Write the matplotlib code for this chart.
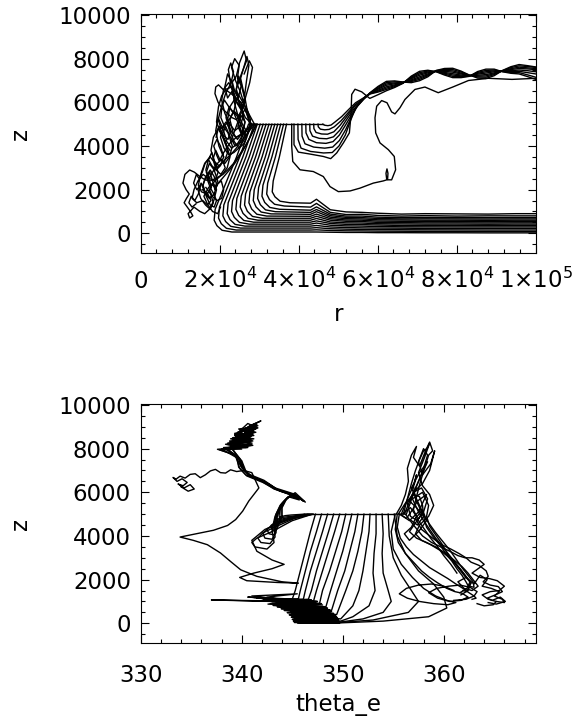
import matplotlib
matplotlib.use('Agg')
import matplotlib.pyplot as plt
from matplotlib.ticker import FixedLocator, MultipleLocator

plt.rcParams['font.family'] = 'DejaVu Sans'
plt.rcParams['font.size'] = 16.5
plt.rcParams['mathtext.fontset'] = 'dejavusans'
plt.rcParams['lines.linewidth'] = 1.0

# ---------------- top panel: r - z ----------------
z_release = 5000

# trajectories that sink to the surface layer (head part, then common r grid)
fan_r_head = [
    [27300, 24270, 18850, 18600, 19300, 20600, 23100],
    [28040, 25060, 19950, 19700, 20400, 21700, 24200],
    [28780, 25860, 21050, 20800, 21500, 22800, 25300],
    [29520, 26660, 22150, 21900, 22600, 23900, 26400],
    [30260, 27470, 23250, 23000, 23700, 25000, 27500],
    [31000, 28280, 24350, 24100, 24800, 26100, 28600],
    [31740, 29090, 25450, 25200, 25900, 27200, 29700],
    [32480, 29900, 26550, 26300, 27000, 28300, 30800],
    [33220, 30730, 27650, 27400, 28100, 29400, 31900],
    [33960, 31550, 28750, 28500, 29200, 30500, 33000],
    [34700, 32380, 29850, 29600, 30300, 31600, 34100],
    [35440, 33220, 30950, 30700, 31400, 32700, 35200],
    [36180, 34110, 32150, 31900, 32600, 33900, 36400],
    [36920, 35110, 33550, 33300, 34000, 35300, 37800],
]
fan_z_head = [
    [5000, 3500, 1100, 600, 350, 140, 60],
    [5000, 3500, 1200, 700, 440, 230, 150],
    [5000, 3500, 1300, 800, 540, 320, 240],
    [5000, 3500, 1400, 900, 630, 410, 330],
    [5000, 3500, 1500, 1000, 730, 500, 420],
    [5000, 3500, 1600, 1100, 820, 590, 510],
    [5000, 3500, 1700, 1200, 915, 685, 600],
    [5000, 3500, 1800, 1300, 1010, 775, 690],
    [5000, 3500, 1900, 1400, 1110, 875, 790],
    [5000, 3500, 2000, 1500, 1210, 975, 890],
    [5000, 3500, 2100, 1600, 1310, 1075, 990],
    [5000, 3500, 2200, 1700, 1415, 1185, 1100],
    [5000, 3500, 2300, 1800, 1545, 1330, 1250],
    [5000, 3500, 2400, 1900, 1670, 1470, 1400],
]
fan_r_tail = [43000, 44500, 48000, 52000, 56000, 60000, 66000, 72000, 80000, 88000, 95000, 100000]
fan_z_tail = [
    [60, 60, 50, 40, 40, 30, 30, 25, 25, 20, 20, 20],
    [150, 160, 130, 115, 110, 100, 95, 90, 85, 80, 80, 80],
    [240, 260, 210, 190, 180, 170, 165, 160, 155, 150, 150, 150],
    [330, 360, 290, 265, 250, 240, 235, 225, 220, 220, 220, 220],
    [420, 470, 370, 340, 330, 310, 300, 295, 290, 290, 290, 290],
    [510, 570, 450, 410, 400, 380, 360, 355, 350, 350, 350, 350],
    [600, 680, 520, 480, 470, 440, 430, 420, 420, 415, 420, 420],
    [690, 780, 600, 550, 540, 500, 490, 480, 480, 475, 480, 480],
    [780, 880, 670, 610, 600, 560, 550, 545, 540, 535, 540, 540],
    [870, 990, 740, 670, 660, 620, 610, 600, 600, 595, 600, 600],
    [960, 1090, 810, 730, 720, 680, 660, 665, 660, 655, 660, 660],
    [1060, 1210, 880, 790, 790, 740, 720, 730, 720, 715, 720, 720],
    [1200, 1370, 960, 860, 870, 820, 790, 810, 790, 800, 800, 800],
    [1380, 1560, 1080, 980, 960, 920, 880, 900, 890, 880, 900, 900],
]

# trajectories that curl and rise into the outflow band
curl_r_head = [
    [38810, 38810, 39910, 42870, 46240, 48100, 49620, 51310, 52830, 53250, 53420, 54260, 55950, 57500],
    [39800, 39850, 40600, 43000, 46300, 48500, 50200, 51800, 53000, 54300, 56500],
    [40800, 40850, 41600, 43800, 46600, 48600, 50300, 51900, 53300, 54900, 56700],
    [41800, 41850, 42600, 44500, 46900, 48700, 50300, 52000, 53600, 55300, 56900],
    [42800, 42850, 43500, 45200, 47100, 48800, 50400, 52100, 53800, 55600, 57000],
    [43800, 43850, 44400, 45800, 47300, 48900, 50500, 52300, 54000, 55800, 57200],
    [44900, 44950, 45500, 46600, 47700, 49000, 50700, 52500, 54200, 56000, 57400],
    [46100, 46600, 47400, 48200, 49200, 50900, 52700, 54400, 56200, 57500],
]
curl_z_head = [
    [5000, 4060, 3720, 3630, 3520, 3420, 3680, 4140, 4600, 5440, 6360, 6600, 6480, 6250],
    [5000, 4300, 3900, 3750, 3680, 3700, 4000, 4500, 5100, 5700, 6150],
    [5000, 4450, 4100, 3950, 3900, 3950, 4250, 4750, 5300, 5850, 6200],
    [5000, 4600, 4300, 4150, 4120, 4200, 4500, 5000, 5500, 5950, 6250],
    [5000, 4700, 4450, 4350, 4330, 4420, 4720, 5200, 5650, 6000, 6280],
    [5000, 4800, 4620, 4550, 4540, 4650, 4950, 5380, 5780, 6060, 6300],
    [5000, 4880, 4770, 4740, 4760, 4880, 5150, 5520, 5880, 6120, 6320],
    [5000, 4950, 4930, 4960, 5100, 5350, 5680, 5980, 6180, 6330],
]
band_r = [58000, 60100, 62200, 64300, 66400, 68500, 70600, 72700, 74800, 76900, 79000,
          81100, 83200, 85300, 87400, 89500, 91600, 93700, 95800, 97900, 100000]
curl_z_band = [
    [6180, 6350, 6530, 6680, 6870, 7200, 7420, 7470, 7400, 7250, 7130, 7130, 7190, 7410, 7520, 7520, 7400, 7330, 7300, 7180, 7050],
    [6380, 6470, 6590, 6720, 6880, 7160, 7360, 7430, 7410, 7290, 7190, 7170, 7200, 7370, 7460, 7480, 7410, 7370, 7360, 7260, 7150],
    [6390, 6510, 6650, 6760, 6890, 7120, 7300, 7390, 7420, 7330, 7250, 7210, 7210, 7330, 7400, 7440, 7420, 7410, 7420, 7360, 7300],
    [6400, 6550, 6710, 6800, 6900, 7080, 7240, 7350, 7430, 7370, 7310, 7250, 7220, 7290, 7340, 7400, 7430, 7450, 7480, 7450, 7400],
    [6400, 6600, 6780, 6850, 6900, 7030, 7170, 7300, 7430, 7420, 7380, 7300, 7220, 7240, 7270, 7350, 7430, 7500, 7550, 7530, 7500],
    [6410, 6640, 6840, 6890, 6910, 6990, 7110, 7260, 7440, 7460, 7440, 7340, 7230, 7200, 7210, 7310, 7440, 7540, 7610, 7580, 7550],
    [6420, 6690, 6900, 6940, 6920, 6950, 7050, 7220, 7450, 7510, 7500, 7390, 7240, 7160, 7150, 7270, 7450, 7590, 7670, 7640, 7600],
    [6430, 6730, 6960, 6980, 6930, 6900, 6990, 7170, 7460, 7550, 7560, 7430, 7250, 7110, 7090, 7220, 7460, 7630, 7730, 7680, 7620],
]

# the one trajectory that dips to 2 km and loops back up
loop_r = [38230, 38230, 38500, 40330, 43700, 46240, 47930, 50040, 53000, 55530,
          58900, 61430, 62300, 62100, 62350, 62600, 62500, 63530, 64540, 64200,
          62700, 60590, 59490, 59320, 59740, 61000, 62360, 63530, 64370, 65640,
          66900, 69430, 71960, 75330, 79000, 83000, 88000, 94000, 100000]
loop_z = [5000, 4000, 3290, 2910, 2830, 2600, 2140, 1910, 1940, 2070,
          2300, 2400, 2450, 2750, 2950, 2750, 2450, 2450, 2910, 3520,
          3830, 4140, 4600, 5290, 5820, 6080, 5980, 5560, 5470, 5750,
          6130, 6590, 6700, 6440, 6700, 7000, 7100, 7050, 7100]

# tangled trajectories near the inner core
cloud_r = [
    [28200, 26500, 25000, 24200, 25500, 26800, 26200, 25000, 24500, 25600, 26300, 25200, 23800, 22800, 22200, 22800,
     23500, 22900, 21500, 20600, 20300, 21200, 22400, 23600, 24800, 26000, 27200, 27800, 26900, 25400, 24000, 23000],
    [28600, 27000, 25500, 24000, 22800, 22000, 22600, 24000, 25400, 26000, 25200, 23800, 22600, 21300, 20500,
     21000, 22300, 23500, 24600, 25600, 26400, 25800, 24500, 23000, 21800, 20800, 19600, 19000, 19800, 21000],
    [29000, 27500, 25800, 24200, 22800, 21500, 20400, 19500, 18700, 18000, 17200, 16500, 17500, 18800, 19600, 18900,
     17600, 16200, 15200, 14600, 15400, 16800, 17900, 17200, 15800, 14500, 13500, 13000, 14200, 15700, 16900, 17800,
     17000, 15600],
    [29400, 28000, 26500, 25000, 23500, 22000, 20800, 19800, 18800, 17600, 16300, 15000, 13600, 12400, 11200, 10700,
     11500, 12300, 11600, 11000, 11800, 12600, 13200, 12400, 12000, 13500, 15000, 16200, 17400, 18500, 19200, 18400,
     17200, 16000, 17000, 18200, 19500, 20200],
    [28800, 27600, 26200, 24600, 23000, 21600, 20500, 19700, 19200, 20200, 21400, 22000, 21200, 19800, 18600, 17800,
     18400, 19600, 20800, 21800, 22600, 21900, 20700, 19400, 18300, 17400, 18100, 19300, 20500, 21000, 20400, 19100],
    [27900, 26800, 25300, 23600, 22100, 20800, 19700, 19000, 18800, 19600, 20700, 21900, 23100, 24300, 25400, 26500,
     27600, 28300, 27500, 26200],
    [28000, 26800, 25600, 24600, 25400, 26400, 25700, 24500, 23400, 22600, 23500, 24700, 25800, 26800, 26100, 24900,
     23700, 22500, 21600, 22400, 23600, 24800, 25900, 25200, 23900, 22700, 21500, 20600, 21400, 22600],
    [28400, 27200, 25900, 24800, 23600, 22300, 21100, 20200, 20900, 22100, 23200, 22500, 21300, 20000, 19000, 18300,
     19100, 20300, 21400, 20600, 19400, 18200, 17300, 16600, 17400, 18600, 19500, 18800, 17600, 16500, 15700, 16400,
     17500],
    [27600, 26400, 25200, 24000, 23000, 23800, 24900, 24200, 23100, 22000, 21300, 22000, 23100, 24100, 23500, 22300,
     21200, 20300, 19600, 20400, 21600, 22800, 22100, 20900, 19800, 19100],
    [29200, 27400, 25600, 23800, 22000, 20600, 19600, 18800, 18200, 17500, 16800, 17600, 18500, 19200, 18600, 17600,
     16600, 15800, 16500, 17600, 18600, 19300, 18600, 17400, 16200, 15300, 14500, 15200, 16400, 17600, 18400, 17700,
     16500],
    [28700, 27300, 25800, 24300, 22900, 21700, 20700, 19900, 19200, 18500, 19300, 20200, 21000, 20200, 19100, 18000,
     17100, 16300, 15600, 14800, 14100, 13400, 14200, 15200, 14600, 13700, 12800, 12200, 13000, 14000],
    [27700, 27000, 26300, 26800, 27400, 26900, 26100, 25300, 25900, 26500, 25800, 24900, 24200, 24800, 25500, 24700,
     23800, 23100, 23700, 24600],
]
cloud_z = [
    [5000, 5300, 5900, 6600, 7300, 7900, 8350, 7800, 7100, 6700, 6200, 5800, 6100, 6800, 7500, 7800,
     7400, 6900, 6400, 5900, 5300, 4900, 5200, 5600, 5400, 4900, 4600, 5200, 5700, 5500, 4800, 4300],
    [5000, 4800, 4500, 4400, 4700, 5200, 5800, 6200, 6000, 5400, 4900, 4700, 5000, 5500, 6100,
     6600, 6900, 6500, 5900, 5600, 5100, 4500, 4100, 3900, 4200, 4800, 5300, 4700, 4000, 3500],
    [5000, 4700, 4300, 3900, 3600, 3400, 3200, 3000, 3300, 3700, 3400, 2900, 2500, 2400, 2800, 3200,
     3500, 3200, 2700, 2200, 1900, 1800, 2100, 2500, 2700, 2400, 2000, 1600, 1400, 1500, 1300, 1500,
     1800, 2000],
    [5000, 4500, 4000, 3600, 3200, 2900, 2700, 2600, 2500, 2400, 2450, 2600, 2800, 2900, 2700, 2300,
     2000, 1800, 1600, 1400, 1200, 1000, 800, 700, 900, 1200, 1000, 900, 1100, 1500, 2000, 2300,
     2100, 1700, 1300, 1000, 900, 1200],
    [5000, 5400, 5900, 6400, 6700, 6600, 6300, 5800, 5100, 4600, 4200, 3700, 3300, 3100, 3300, 3800,
     4400, 4800, 4500, 4000, 3500, 3000, 2700, 2500, 2300, 2000, 1700, 1500, 1600, 2000, 2400, 2200],
    [5000, 5500, 6000, 6300, 6500, 6600, 6800, 6700, 6400, 6000, 5700, 5500, 5300, 5200, 5600, 6200,
     6900, 7600, 7900, 7300],
    [5000, 4700, 4500, 4900, 5400, 5100, 4600, 4300, 4600, 5200, 5600, 5300, 4800, 4400, 4100, 3900,
     4200, 4700, 5300, 5800, 5500, 5000, 4500, 4200, 4000, 4400, 4900, 4500, 4100, 3800],
    [5000, 4600, 4200, 3900, 3700, 3600, 3900, 4400, 4900, 4600, 4000, 3500, 3200, 3400, 3800, 3400,
     2900, 2700, 3000, 3400, 3200, 2800, 2500, 2800, 3200, 2900, 2400, 2100, 2300, 2600, 2200, 1800,
     1600],
    [5000, 5800, 6500, 7000, 7600, 8000, 7700, 7200, 6900, 7300, 6700, 6200, 6500, 6000, 5500, 5800,
     6100, 5700, 5200, 4800, 5100, 4700, 4300, 4500, 4900, 4400],
    [5000, 4300, 3700, 3200, 2800, 2500, 2300, 2000, 2400, 2800, 2500, 2100, 1800, 1500, 1200, 1300,
     1700, 2200, 2600, 2900, 2600, 2200, 1800, 1600, 1900, 2300, 2000, 1600, 1300, 1100, 1400, 1800,
     2100],
    [5000, 4800, 4600, 4400, 4200, 3900, 3600, 3300, 3600, 4000, 4300, 4000, 3500, 3100, 2900, 3100,
     3400, 3200, 2800, 2500, 2700, 2300, 2000, 2200, 1800, 1500, 1700, 1400, 1200, 1350],
    [5000, 5600, 6300, 7000, 7700, 8100, 7600, 7100, 6600, 6100, 5700, 6000, 6600, 7200, 6800, 6200,
     6500, 7000, 6000, 5400],
]

# ---------------- bottom panel: theta_e - z ----------------
fan_th = [
    [355.1, 355.4, 356.2, 357.5, 359.0, 360.0, 360.3, 358.5, 354.0, 349.8, 345.4, 349.7, 345.2, 349.7, 345.5, 349.6],
    [354.5, 354.6, 355.0, 355.8, 356.8, 357.5, 356.5, 353.0, 349.8, 345.3, 349.6, 345.1, 349.6, 345.4, 349.6],
    [353.9, 354.0, 353.9, 354.0, 354.5, 354.8, 354.0, 352.0, 349.8, 345.2, 349.5, 345.0, 349.5, 345.3, 349.6, 345.4],
    [353.3, 353.3, 353.1, 353.0, 353.2, 352.6, 351.0, 349.8, 345.1, 349.4, 344.9, 349.5, 345.2, 349.4, 345.3],
    [352.7, 352.6, 352.3, 352.0, 351.6, 351.0, 349.8, 345.0, 349.3, 344.7, 349.2, 345.1, 349.4, 345.2],
    [352.1, 351.9, 351.5, 351.0, 350.3, 349.4, 344.8, 349.1, 344.5, 349.0, 345.0, 349.2, 345.1, 349.0],
    [351.5, 351.2, 350.7, 350.2, 349.5, 348.9, 344.6, 348.9, 344.2, 348.7, 344.9, 349.0, 345.0, 348.8],
    [350.9, 350.5, 350.0, 349.4, 348.8, 348.3, 344.3, 348.7, 343.9, 348.5, 344.6, 348.8, 344.9, 348.6],
    [350.3, 349.9, 349.3, 348.7, 348.0, 347.7, 344.0, 348.5, 343.5, 348.2, 344.5, 348.6, 344.7, 348.4],
    [349.7, 349.2, 348.6, 348.0, 347.4, 347.1, 343.8, 348.3, 343.1, 348.0, 344.2, 348.4, 344.4, 348.1],
    [349.1, 348.6, 348.0, 347.4, 346.9, 346.6, 343.4, 348.0, 342.6, 347.6, 343.8, 348.2, 344.0, 347.9],
    [348.5, 348.0, 347.4, 346.8, 346.3, 346.1, 343.0, 347.9, 342.1, 347.0, 341.0, 345.5, 342.5, 347.6],
    [347.9, 347.4, 346.8, 346.3, 345.8, 345.6, 342.0, 347.4, 341.2, 346.9, 342.8, 347.8, 343.5, 347.2],
    [347.3, 346.8, 346.3, 345.8, 345.3, 345.0, 341.5, 346.8, 340.6, 347.5, 342.2, 347.3, 337.0, 344.5, 347.6],
]
fan_zth = [
    [5000, 4000, 3200, 2400, 1800, 1200, 700, 300, 100, 20, 50, 30, 40, 20, 30, 20],
    [5000, 4000, 3000, 2200, 1500, 1000, 500, 150, 40, 120, 100, 110, 80, 90, 80],
    [5000, 4100, 3200, 2300, 1500, 1000, 500, 200, 60, 200, 170, 180, 150, 160, 150, 150],
    [5000, 4100, 3200, 2300, 1500, 800, 300, 100, 300, 260, 280, 230, 240, 220, 220],
    [5000, 4200, 3300, 2400, 1500, 800, 200, 420, 360, 390, 320, 330, 290, 290],
    [5000, 4200, 3300, 2400, 1500, 400, 520, 450, 490, 400, 420, 370, 380, 350],
    [5000, 4200, 3300, 2400, 1500, 600, 620, 540, 590, 480, 500, 440, 450, 420],
    [5000, 4200, 3300, 2400, 1500, 700, 700, 620, 670, 560, 590, 510, 520, 480],
    [5000, 4200, 3300, 2400, 1500, 900, 800, 690, 760, 640, 660, 580, 600, 540],
    [5000, 4200, 3300, 2400, 1500, 1000, 880, 760, 820, 700, 720, 640, 650, 600],
    [5000, 4200, 3300, 2400, 1500, 1100, 950, 840, 880, 760, 800, 700, 720, 660],
    [5000, 4200, 3300, 2400, 1500, 1100, 980, 900, 1060, 950, 1250, 1350, 1200, 780],
    [5000, 4200, 3300, 2400, 1500, 1100, 1050, 980, 1180, 1080, 900, 870, 1000, 820],
    [5000, 4200, 3300, 2400, 1500, 1100, 1150, 1050, 1200, 1000, 1120, 950, 1070, 1010, 900],
]

curl_th = [
    [347.0, 345.0, 343.0, 341.5, 341.0, 341.3, 342.5, 343.2, 343.0, 343.3, 343.8, 344.6, 345.7, 345.0, 343.3, 342.1,
     340.5, 339.8, 339.4, 338.6, 340.9, 339.0, 341.2, 339.4, 341.4, 339.9, 341.6, 340.4,
     339.3, 340.8, 339.6, 341.0],
    [346.9, 345.2, 343.5, 342.1, 341.6, 341.9, 342.8, 343.3, 343.2, 343.4, 343.9, 344.7, 345.6, 344.9, 343.2, 342.0,
     340.4, 339.7, 339.5, 337.6, 339.9, 338.4, 340.6, 338.9, 341.0, 339.6, 341.9, 340.8,
     339.8, 341.1, 339.2, 340.6],
    [346.8, 345.3, 343.8, 342.6, 342.1, 342.3, 343.0, 343.4, 343.3, 343.5, 344.0, 344.8, 345.8, 345.0, 343.3, 342.2,
     340.6, 339.9, 339.3, 338.2, 340.3, 338.8, 340.8, 339.3, 341.1, 339.8, 341.3,
     340.1, 341.4, 339.5, 340.7],
    [346.7, 345.4, 344.1, 343.0, 342.5, 342.7, 343.2, 343.5, 343.4, 343.6, 344.1, 344.9, 345.9, 345.1, 343.4, 342.3,
     340.7, 340.0, 339.6, 337.8, 340.0, 338.6, 340.9, 339.1, 341.2, 340.0, 341.5,
     339.4, 340.9, 338.9, 340.4],
    [346.6, 345.5, 344.4, 343.4, 342.9, 343.0, 343.4, 343.6, 343.5, 343.7, 344.2, 345.0, 346.0, 345.2, 343.5, 342.4,
     340.8, 340.1, 339.7, 338.9, 341.0, 339.2, 340.7, 338.8, 340.9, 339.7, 341.4,
     340.3, 341.2, 339.7, 340.9],
    [346.5, 345.6, 344.6, 343.7, 343.2, 343.3, 343.6, 343.8, 343.7, 343.8, 344.3, 345.1, 346.1, 345.3, 343.6, 342.5,
     340.9, 340.2, 339.8, 338.4, 340.6, 338.7, 341.1, 339.5, 341.3, 340.1,
     339.1, 340.5, 339.4, 340.8],
    [346.35, 345.7, 344.9, 344.0, 343.5, 343.5, 343.8, 343.9, 343.9, 343.9, 344.4, 345.2, 346.2, 345.4, 343.7, 342.6,
     341.0, 340.3, 339.9, 339.0, 341.1, 338.9, 340.5, 339.3, 341.6, 340.6,
     339.9, 341.3, 340.2, 341.0],
    [346.2, 345.6, 344.9, 344.3, 343.9, 343.8, 344.0, 344.0, 344.0, 344.0, 344.5, 345.3, 346.3, 345.5, 343.8, 342.7,
     341.1, 340.4, 340.0, 338.0, 340.2, 338.6, 340.9, 339.3, 341.0,
     339.6, 340.7, 338.7, 340.3],
]
curl_zth = [
    [5000, 4700, 4200, 3900, 3700, 3500, 3400, 3700, 4300, 4900, 5400, 5800, 5650, 5850, 6150, 6450,
     6750, 7100, 7650, 8000, 8150, 8300, 8450, 8550, 8750, 8800, 9050, 8950,
     8600, 8500, 8350, 8250],
    [5000, 4800, 4450, 4150, 3900, 3700, 3650, 3950, 4500, 5000, 5450, 5820, 5700, 5900, 6150, 6500,
     6800, 7150, 7700, 7970, 8050, 8200, 8300, 8450, 8600, 8750, 9270, 9050,
     8700, 8650, 8150, 8100],
    [5000, 4850, 4600, 4350, 4100, 3900, 3850, 4150, 4600, 5050, 5500, 5850, 5750, 5950, 6200, 6550,
     6850, 7200, 7750, 8050, 8100, 8350, 8400, 8650, 8700, 8850, 8950,
     8800, 9000, 8450, 8300],
    [5000, 4880, 4700, 4500, 4300, 4100, 4050, 4350, 4750, 5100, 5550, 5880, 5700, 5900, 6150, 6480,
     6780, 7120, 7650, 7950, 7980, 8250, 8300, 8500, 8600, 8850, 9100,
     8700, 8550, 8100, 8050],
    [5000, 4900, 4780, 4650, 4480, 4300, 4250, 4500, 4850, 5150, 5600, 5900, 5650, 5870, 6120, 6450,
     6750, 7100, 7600, 8100, 8200, 8400, 8500, 8300, 8650, 8900, 9000,
     8750, 8800, 8550, 8350],
    [5000, 4920, 4840, 4750, 4620, 4480, 4450, 4650, 4950, 5200, 5650, 5920, 5600, 5850, 6100, 6420,
     6720, 7050, 7550, 7980, 8050, 8250, 8350, 8600, 8750, 8800,
     8400, 8350, 8150, 8200],
    [5000, 4950, 4900, 4850, 4760, 4660, 4650, 4800, 5050, 5250, 5700, 5950, 5580, 5830, 6080, 6400,
     6700, 7000, 7500, 8000, 8150, 8300, 8550, 8450, 8950, 9150,
     8850, 8900, 8600, 8700],
    [5000, 4980, 4960, 4930, 4880, 4850, 4860, 4950, 5100, 5300, 5750, 5980, 5550, 5800, 6050, 6380,
     6680, 6980, 7450, 7990, 8100, 8200, 8450, 8700, 8600,
     8400, 8450, 8050, 8150],
]

loop_th = [347.1, 344.6, 342.3, 341.0, 341.5, 343.0, 344.2, 343.0, 341.2, 339.8,
           340.5, 343.5, 345.6, 344.0, 341.5, 339.9, 338.9, 337.9, 336.6, 335.2,
           333.9, 335.6, 337.2, 338.6, 339.4, 340.1, 340.7, 341.2, 341.7, 341.0,
           340.2, 339.5, 338.9, 338.4, 337.9, 337.4, 336.9, 336.4, 335.9, 335.4,
           334.9, 334.4, 333.9, 333.5, 333.2, 333.6, 334.1, 334.6, 334.2, 333.7,
           334.3, 334.9, 335.3, 334.7, 334.0]
loop_zth = [5000, 4750, 4300, 3800, 3300, 2900, 2700, 2500, 2300, 2100,
            1950, 1870, 1840, 1900, 2150, 2450, 2830, 3220, 3600, 3800,
            3950, 4110, 4260, 4480, 4750, 5140, 5600, 5900, 6200, 6900,
            7000, 6950, 7030, 6880, 6900, 7050, 6980, 6800, 6670, 6850,
            6820, 6650, 6740, 6600, 6680, 6500, 6620, 6450, 6300, 6380,
            6200, 6350, 6150, 6050, 6250]

cloud_th = [
    [355.3, 355.8, 356.2, 356.5, 356.4, 356.8, 357.3, 357.0, 357.6, 358.2, 358.6, 358.1, 357.5, 357.9, 358.6,
     359.0, 358.5, 357.6, 357.2, 357.8, 358.7, 359.6, 360.3, 361.0, 361.6, 362.1, 362.6, 362.3, 361.6],
    [355.6, 356.3, 356.9, 357.4, 357.9, 357.4, 356.7, 356.4, 357.0, 357.8, 358.4, 358.0, 357.2, 356.6, 357.3,
     358.3, 359.2, 360.2, 361.0, 361.8, 362.4, 362.9, 363.4, 362.8, 362.0, 361.4, 362.2, 363.0,
     363.6, 364.3, 363.8, 364.7, 365.5, 365.0, 365.8, 366.0, 365.2],
    [355.9, 356.7, 357.3, 356.8, 356.1, 356.6, 357.5, 358.3, 357.9, 357.2, 357.8, 358.9, 359.8, 360.7, 361.5,
     362.2, 362.7, 363.5, 364.2, 364.4, 363.9, 364.6, 365.4, 365.8, 365.1, 364.3, 364.8, 365.6, 366.1, 365.2, 364.4],
    [355.4, 355.2, 355.5, 356.2, 357.0, 357.8, 358.6, 359.4, 360.3, 361.1, 361.8, 362.4, 361.7, 360.6, 359.4,
     358.5, 359.3, 360.5, 361.6, 362.6, 363.3, 363.0, 362.2, 361.0],
    [356.0, 356.4, 356.8, 357.2, 357.6, 358.0, 358.3, 358.6, 358.9, 358.5, 358.1, 357.7, 357.3, 357.0, 357.5,
     358.1, 358.7, 359.4, 360.0, 360.7, 361.3],
    [356.2, 357.0, 357.9, 358.8, 359.7, 360.6, 361.4, 362.1, 362.8, 363.5, 364.0, 363.4, 362.8, 363.6, 364.5,
     365.3, 366.0, 365.5, 364.6, 363.8, 364.4, 365.2, 364.9, 364.0, 363.3],
    [355.5, 356.2, 357.0, 357.6, 357.9, 358.0, 358.3, 358.9, 359.6, 360.2, 360.8, 361.3, 361.8, 362.2, 362.5,
     362.3, 361.9],
    [355.8, 356.5, 357.1, 357.3, 357.0, 357.2, 357.8, 358.5, 359.2, 359.9, 360.6, 361.2, 361.8, 362.4, 362.9,
     363.0, 362.5],
    [356.1, 356.9, 357.8, 358.4, 357.6, 356.8, 357.4, 358.3, 357.5, 358.0, 358.6, 359.2, 359.9, 360.5, 361.1,
     361.7, 362.2, 362.7, 362.4],
    [355.6, 355.4, 355.7, 356.3, 357.0, 357.8, 358.6, 359.5, 360.4, 361.2, 361.9, 362.5, 363.0, 363.2, 362.8],
    [355.7, 356.6, 357.5, 356.9, 357.9, 358.5, 358.3, 358.6, 359.2, 359.8, 360.3, 360.9, 361.5, 362.1, 362.7,
     362.4, 361.7],
    [356.3, 356.9, 357.5, 358.0, 358.4, 358.0, 357.5, 357.9, 358.7, 359.1, 358.6, 357.9, 357.2, 356.6, 357.3,
     358.0, 357.4, 356.8],
    [355.2, 354.8, 355.0, 355.8, 356.9, 358.0, 359.2, 360.3, 361.2, 360.4, 359.0, 357.6, 356.4, 355.6, 356.3,
     357.5, 358.8, 360.0, 361.0],
]
cloud_zth = [
    [5000, 5400, 5900, 6500, 7100, 7700, 8100, 7600, 7200, 7900, 8250, 7600, 6900, 6300, 5900,
     5400, 4900, 4500, 4100, 3800, 3600, 3350, 3100, 2800, 2500, 2200, 1900, 1600, 1400],
    [5000, 4800, 5200, 5600, 5100, 4700, 4900, 5500, 6000, 6200, 5700, 5100, 4600, 4200, 3900,
     3700, 3500, 3200, 2900, 2600, 2300, 2000, 1700, 1500, 1600, 1900, 2100, 1800,
     2200, 2000, 1700, 1600, 1450, 1250, 1100, 950, 1000],
    [5000, 5300, 4900, 4400, 4100, 3800, 4200, 4700, 5200, 4800, 4300, 3900, 3600, 3400, 3200,
     3000, 2800, 2650, 2400, 2150, 1900, 1750, 1680, 1450, 1300, 1150, 1050, 1200, 1000, 880, 950],
    [5000, 4300, 3700, 3200, 2800, 2400, 2100, 1850, 1600, 1450, 1380, 1200, 1050, 1000, 1150,
     1400, 1600, 1700, 1750, 1650, 1450, 1250, 1100, 1050],
    [5000, 5700, 6400, 7000, 7500, 7900, 8000, 8300, 7900, 7700, 7100, 6500, 5800, 5200, 4700,
     4300, 3900, 3500, 3100, 2700, 2300],
    [5000, 4500, 4000, 3700, 3500, 3300, 3100, 3000, 3000, 2900, 2700, 2500, 2300, 2100, 2050,
     1950, 1700, 1500, 1450, 1300, 1100, 1000, 850, 800, 900],
    [5000, 5500, 5900, 5800, 5400, 4900, 4400, 4000, 3600, 3200, 2850, 2500, 2200, 1900, 1650,
     1450, 1500],
    [5000, 5800, 6400, 6800, 6300, 5700, 5100, 4600, 4150, 3750, 3350, 2950, 2550, 2200, 1900,
     1650, 1700],
    [5000, 5900, 6800, 7400, 6900, 6200, 5600, 5900, 5100, 4700, 4300, 3900, 3500, 3150, 2800,
     2450, 2150, 1850, 1650],
    [5000, 4400, 3900, 3500, 3150, 2850, 2550, 2300, 2050, 1800, 1600, 1400, 1250, 1150, 1100],
    [5000, 4700, 5100, 5700, 6000, 5400, 4900, 4450, 4050, 3650, 3250, 2850, 2500, 2150, 1850,
     1500, 1300],
    [5000, 5800, 6500, 7100, 7700, 8000, 7400, 6800, 7300, 7900, 7000, 6400, 6100, 5600, 5300,
     4900, 4500, 4700],
    [5000, 4200, 3400, 2700, 2100, 1600, 1250, 1050, 950, 850, 900, 1000, 1150, 1350, 1600,
     1750, 1800, 1700, 1500],
]

# axis ticks / labels
z_ticks = [0, 2000, 4000, 6000, 8000, 10000]
z_labels = ['0', '2000', '4000', '6000', '8000', '10000']
r_ticks = [0, 20000, 40000, 60000, 80000, 100000]
r_labels = ['0', r'$2{\times}10^{4}$', r'$4{\times}10^{4}$', r'$6{\times}10^{4}$',
            r'$8{\times}10^{4}$', r'$1{\times}10^{5}$']
th_ticks = [330, 340, 350, 360]
th_labels = ['330', '340', '350', '360']


def style_axes(ax, xticks, xlabels, xminor, xpad):
    ax.set_ylim(-916, 10046)
    ax.yaxis.set_major_locator(FixedLocator(z_ticks))
    ax.set_yticklabels(z_labels)
    ax.yaxis.set_minor_locator(MultipleLocator(500))
    ax.xaxis.set_major_locator(FixedLocator(xticks))
    ax.set_xticklabels(xlabels)
    ax.xaxis.set_minor_locator(MultipleLocator(xminor))
    ax.tick_params(which='both', direction='in', top=True, right=True, width=0.8, colors='k')
    ax.tick_params(which='major', length=6)
    ax.tick_params(which='minor', length=3)
    ax.tick_params(axis='x', pad=xpad)
    ax.tick_params(axis='y', pad=7)
    for lab in ax.get_xticklabels():
        lab.set_va('baseline')
    for s in ax.spines.values():
        s.set_linewidth(0.8)
    ax.set_ylabel('z')
    ax.yaxis.set_label_coords(-0.275, 0.5)


fig = plt.figure(figsize=(5.78, 7.17), dpi=100)

# top panel
ax1 = fig.add_axes([0.2434, 0.6467, 0.6834, 0.3338])
for rh, zh, zt in zip(fan_r_head, fan_z_head, fan_z_tail):
    ax1.plot(rh + fan_r_tail, zh + zt, color='k')
for rh, zh, zb in zip(curl_r_head, curl_z_head, curl_z_band):
    ax1.plot(rh + band_r, zh + zb, color='k')
ax1.plot(loop_r, loop_z, color='k')
for rc, zc in zip(cloud_r, cloud_z):
    ax1.plot(rc, zc, color='k')
starts = [c[0] for c in fan_r_head] + [c[0] for c in curl_r_head] + [loop_r[0]]
ax1.plot([min(starts), max(starts)], [z_release, z_release], color='k')
ax1.set_xlim(0, 100000)
style_axes(ax1, r_ticks, r_labels, 4000, 25)
ax1.set_xlabel('r')
ax1.xaxis.set_label_coords(0.5, -0.284)
ax1.xaxis.label.set_va('baseline')

# bottom panel
ax2 = fig.add_axes([0.2434, 0.1028, 0.6834, 0.3338])
for th, zz in zip(fan_th, fan_zth):
    ax2.plot(th, zz, color='k')
for th, zz in zip(curl_th, curl_zth):
    ax2.plot(th, zz, color='k')
ax2.plot(loop_th, loop_zth, color='k')
for th, zz in zip(cloud_th, cloud_zth):
    ax2.plot(th, zz, color='k')
th_starts = [c[0] for c in fan_th] + [c[0] for c in curl_th] + [loop_th[0]]
ax2.plot([min(th_starts), max(th_starts)], [z_release, z_release], color='k')
ax2.set_xlim(330, 369.1)
style_axes(ax2, th_ticks, th_labels, 2, 28)
ax2.set_xlabel('theta_e')
ax2.xaxis.set_label_coords(0.5, -0.284)
ax2.xaxis.label.set_va('baseline')

fig.savefig('out.png', dpi=100)
